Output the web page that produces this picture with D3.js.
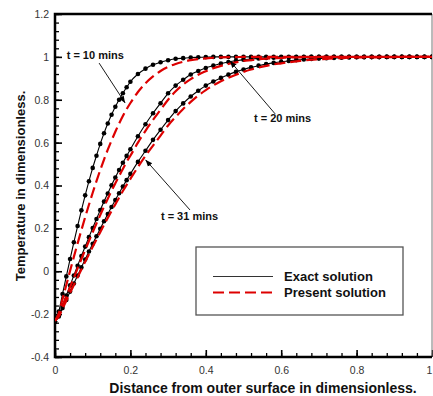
<!DOCTYPE html>
<html>
<head>
<meta charset="utf-8">
<script src="https://cdn.jsdelivr.net/npm/d3@7"></script>
<style>
  body { margin: 0; background: #fff; }
  svg { display: block; font-family: "Liberation Sans", Arial, sans-serif; }
</style>
</head>
<body>
<div id="chart"></div>
<script>
// Data
const xGrid = [0, 0.01, 0.02, 0.03, 0.04, 0.05, 0.06, 0.07, 0.08, 0.09, 0.1,
  0.11, 0.12, 0.13, 0.14, 0.15, 0.16, 0.17, 0.18, 0.19, 0.2,
  0.22, 0.24, 0.26, 0.28, 0.3, 0.32, 0.34, 0.36, 0.38, 0.4,
  0.42, 0.44, 0.46, 0.48, 0.5, 0.52, 0.54, 0.56, 0.58, 0.6,
  0.62, 0.64, 0.66, 0.68, 0.7, 0.72, 0.74, 0.76, 0.78, 0.8,
  0.82, 0.84, 0.86, 0.88, 0.9, 0.92, 0.94, 0.96, 0.98, 1.0];

const exact10 = [-0.235, -0.188, -0.106, -0.024, 0.057, 0.135, 0.211, 0.284, 0.354, 0.420, 0.482,
  0.539, 0.594, 0.644, 0.689, 0.730, 0.767, 0.800, 0.830, 0.858, 0.884,
  0.920, 0.945, 0.963, 0.975, 0.984, 0.991, 0.994, 0.997, 0.998, 0.999,
  1, 1, 1, 1, 1, 1, 1, 1, 1, 1,
  1, 1, 1, 1, 1, 1, 1, 1, 1, 1,
  1, 1, 1, 1, 1, 1, 1, 1, 1, 1];
const exact20 = [-0.235, -0.207, -0.160, -0.113, -0.066, -0.020, 0.026, 0.071, 0.115, 0.159, 0.202,
  0.244, 0.285, 0.325, 0.363, 0.401, 0.437, 0.472, 0.506, 0.538, 0.569,
  0.630, 0.686, 0.737, 0.784, 0.830, 0.866, 0.893, 0.918, 0.934, 0.948,
  0.959, 0.969, 0.976, 0.982, 0.987, 0.990, 0.993, 0.995, 0.996, 0.997,
  0.998, 0.999, 0.999, 1, 1, 1, 1, 1, 1, 1,
  1, 1, 1, 1, 1, 1, 1, 1, 1, 1];
const exact31 = [-0.235, -0.211, -0.172, -0.134, -0.095, -0.057, -0.020, 0.018, 0.055, 0.092, 0.128,
  0.163, 0.198, 0.233, 0.267, 0.300, 0.332, 0.364, 0.395, 0.425, 0.454,
  0.510, 0.562, 0.613, 0.660, 0.705, 0.747, 0.783, 0.815, 0.842, 0.866,
  0.885, 0.902, 0.917, 0.930, 0.941, 0.951, 0.959, 0.966, 0.972, 0.977,
  0.981, 0.985, 0.988, 0.990, 0.992, 0.994, 0.995, 0.996, 0.997, 0.998,
  0.998, 0.999, 0.999, 1, 1, 1, 1, 1, 1, 1];

const present10 = [-0.23, -0.197, -0.130, -0.064, 0.002, 0.067, 0.130, 0.192, 0.252, 0.310, 0.366,
  0.420, 0.472, 0.521, 0.567, 0.610, 0.651, 0.689, 0.724, 0.756, 0.785,
  0.836, 0.877, 0.909, 0.934, 0.953, 0.967, 0.977, 0.985, 0.990, 0.993,
  0.996, 0.998, 0.999, 0.999, 1, 1, 1, 1, 1, 1,
  1, 1, 1, 1, 1, 1, 1, 1, 1, 1,
  1, 1, 1, 1, 1, 1, 1, 1, 1, 1];
const present20 = [-0.23, -0.208, -0.163, -0.118, -0.074, -0.030, 0.014, 0.057, 0.099, 0.141, 0.182,
  0.223, 0.262, 0.301, 0.338, 0.375, 0.410, 0.444, 0.477, 0.510, 0.539,
  0.600, 0.655, 0.706, 0.753, 0.800, 0.840, 0.871, 0.896, 0.917, 0.933,
  0.947, 0.958, 0.967, 0.974, 0.981, 0.985, 0.989, 0.992, 0.994, 0.995,
  0.997, 0.998, 0.998, 0.999, 0.999, 1, 1, 1, 1, 1,
  1, 1, 1, 1, 1, 1, 1, 1, 1, 1];
const present31 = [-0.23, -0.212, -0.175, -0.138, -0.101, -0.064, -0.028, 0.008, 0.044, 0.079, 0.114,
  0.148, 0.182, 0.216, 0.249, 0.281, 0.312, 0.343, 0.374, 0.403, 0.431,
  0.486, 0.538, 0.586, 0.633, 0.680, 0.720, 0.757, 0.790, 0.820, 0.845,
  0.867, 0.886, 0.903, 0.917, 0.930, 0.941, 0.950, 0.958, 0.965, 0.970,
  0.975, 0.979, 0.983, 0.987, 0.989, 0.991, 0.993, 0.994, 0.996, 0.997,
  0.997, 0.998, 0.998, 0.999, 0.999, 1, 1, 1, 1, 1];

const xTicks = [0, 0.2, 0.4, 0.6, 0.8, 1];
const xTickLabels = ['0', '0.2', '0.4', '0.6', '0.8', '1'];
const yTicks = [-0.4, -0.2, 0, 0.2, 0.4, 0.6, 0.8, 1, 1.2];
const yTickLabels = ['-0.4', '-0.2', '0', '0.2', '0.4', '0.6', '0.8', '1', '1.2'];

const legendLabels = ['Exact solution', 'Present solution'];

// annotation text anchors and arrow ends, in data units
const noteLabels = ['t = 10 mins', 't = 20 mins', 't = 31 mins'];
const notePos = [[0.031, 0.988], [0.528, 0.695], [0.281, 0.239]];
const noteFrom = [[0.117, 0.971], [0.584, 0.734], [0.358, 0.286]];
const noteTo = [[0.186, 0.785], [0.464, 0.981], [0.240, 0.52]];

function drawChart() {
    const width = 433, height = 396;
    const plot = { left: 55, right: 432, top: 14, bottom: 357 };

    const svg = d3.select('#chart')
        .append('svg')
        .attr('width', width)
        .attr('height', height);

    const x = d3.scaleLinear().domain([0, 1]).range([plot.left, plot.right]);
    const y = d3.scaleLinear().domain([-0.4, 1.2]).range([plot.bottom, plot.top]);

    // arrow head
    svg.append('defs').append('marker')
        .attr('id', 'head')
        .attr('viewBox', '0 0 10 10')
        .attr('refX', 10).attr('refY', 5)
        .attr('markerWidth', 7).attr('markerHeight', 7)
        .attr('markerUnits', 'userSpaceOnUse')
        .attr('orient', 'auto')
        .append('path')
        .attr('d', 'M0,1 L10,5 L0,9 Z')
        .attr('fill', '#000');

    svg.select('defs').append('clipPath')
        .attr('id', 'clip')
        .append('rect')
        .attr('x', plot.left).attr('y', plot.top - 4)
        .attr('width', plot.right - plot.left).attr('height', plot.bottom - plot.top + 4);

    // Minor ticks
    svg.append('g')
        .attr('transform', `translate(0,${plot.bottom})`)
        .call(d3.axisBottom(x).tickValues(d3.range(0, 1.001, 0.04)).tickSize(-4).tickFormat(''))
        .call(g => g.select('.domain').remove())
        .call(g => g.selectAll('line').attr('stroke', '#000').attr('stroke-width', 1.3));
    svg.append('g')
        .attr('transform', `translate(${plot.left},0)`)
        .call(d3.axisLeft(y).tickValues(d3.range(-0.4, 1.201, 0.04)).tickSize(-4).tickFormat(''))
        .call(g => g.select('.domain').remove())
        .call(g => g.selectAll('line').attr('stroke', '#000').attr('stroke-width', 1.3));

    // Major ticks + labels
    svg.append('g')
        .attr('transform', `translate(0,${plot.bottom})`)
        .call(d3.axisBottom(x).tickValues(xTicks).tickSize(-7).tickPadding(10)
            .tickFormat((d, i) => xTickLabels[i]))
        .call(g => g.select('.domain').remove())
        .call(g => g.selectAll('line').attr('stroke', '#000').attr('stroke-width', 1.6))
        .call(g => g.selectAll('text').attr('fill', '#333').style('font-size', '10.5px'))
        // last label sits on the window edge; pull it in a little
        .call(g => g.selectAll('text').filter(d => d === 1).attr('dx', -3));
    svg.append('g')
        .attr('transform', `translate(${plot.left},0)`)
        .call(d3.axisLeft(y).tickValues(yTicks).tickSize(-7).tickPadding(6)
            .tickFormat((d, i) => yTickLabels[i]))
        .call(g => g.select('.domain').remove())
        .call(g => g.selectAll('line').attr('stroke', '#000').attr('stroke-width', 1.6))
        .call(g => g.selectAll('text').attr('fill', '#333').style('font-size', '10.5px'));

    // Frame
    svg.append('line')
        .attr('x1', plot.right).attr('x2', plot.right)
        .attr('y1', plot.top).attr('y2', plot.bottom)
        .attr('stroke', '#777').attr('stroke-width', 1);
    svg.append('path')
        .attr('d', `M${plot.right},${plot.top}H${plot.left}V${plot.bottom}H${plot.right}`)
        .attr('fill', 'none')
        .attr('stroke', '#000')
        .attr('stroke-width', 2.5);

    const curves = svg.append('g').attr('clip-path', 'url(#clip)');
    const line = d3.line()
        .x((d, i) => x(xGrid[i]))
        .y(d => y(d))
        .curve(d3.curveMonotoneX);

    // Exact solution: thin black line with dots
    [exact10, exact20, exact31].forEach(s => {
        curves.append('path')
            .attr('d', line(s))
            .attr('fill', 'none')
            .attr('stroke', '#000')
            .attr('stroke-width', 1.1);
        curves.selectAll(null)
            .data(s)
            .enter().append('circle')
            .attr('cx', (d, i) => x(xGrid[i]))
            .attr('cy', d => y(d))
            .attr('r', 2.3)
            .attr('fill', '#000');
    });

    // Present solution: red dashed
    [present10, present20, present31].forEach(s => {
        curves.append('path')
            .attr('d', line(s))
            .attr('fill', 'none')
            .attr('stroke', '#dd0000')
            .attr('stroke-width', 2.2)
            .attr('stroke-dasharray', '11,5');
    });

    // Annotations
    noteLabels.forEach((t, i) => {
        svg.append('line')
            .attr('x1', x(noteFrom[i][0])).attr('y1', y(noteFrom[i][1]))
            .attr('x2', x(noteTo[i][0])).attr('y2', y(noteTo[i][1]))
            .attr('stroke', '#000')
            .attr('stroke-width', 0.9)
            .attr('marker-end', 'url(#head)');
        svg.append('text')
            .attr('x', x(notePos[i][0]))
            .attr('y', y(notePos[i][1]))
            .style('font-size', '11px')
            .style('font-weight', 'bold')
            .attr('fill', '#111')
            .text(t);
    });

    // Legend
    const lg = svg.append('g');
    lg.append('rect')
        .attr('x', 196).attr('y', 247)
        .attr('width', 207).attr('height', 68)
        .attr('fill', '#fff')
        .attr('stroke', '#555')
        .attr('stroke-width', 1.3);
    lg.append('line')
        .attr('x1', 213).attr('x2', 273).attr('y1', 276.5).attr('y2', 276.5)
        .attr('stroke', '#333').attr('stroke-width', 1);
    lg.append('line')
        .attr('x1', 213).attr('x2', 273).attr('y1', 292.5).attr('y2', 292.5)
        .attr('stroke', '#dd0000').attr('stroke-width', 2.2)
        .attr('stroke-dasharray', '11,5');
    legendLabels.forEach((t, i) => {
        lg.append('text')
            .attr('x', 284).attr('y', 281 + i * 16)
            .style('font-size', '13px')
            .style('font-weight', 'bold')
            .attr('fill', '#111')
            .text(t);
    });

    // Axis titles
    svg.append('text')
        .attr('x', 263).attr('y', 393)
        .attr('text-anchor', 'middle')
        .style('font-size', '14px')
        .style('font-weight', 'bold')
        .attr('fill', '#111')
        .text('Distance from outer surface in dimensionless.');
    svg.append('text')
        .attr('transform', 'translate(25,186) rotate(-90)')
        .attr('text-anchor', 'middle')
        .style('font-size', '13px')
        .style('font-weight', 'bold')
        .attr('fill', '#111')
        .text('Temperature in dimensionless.');
}

document.addEventListener('DOMContentLoaded', drawChart);
</script>
</body>
</html>
